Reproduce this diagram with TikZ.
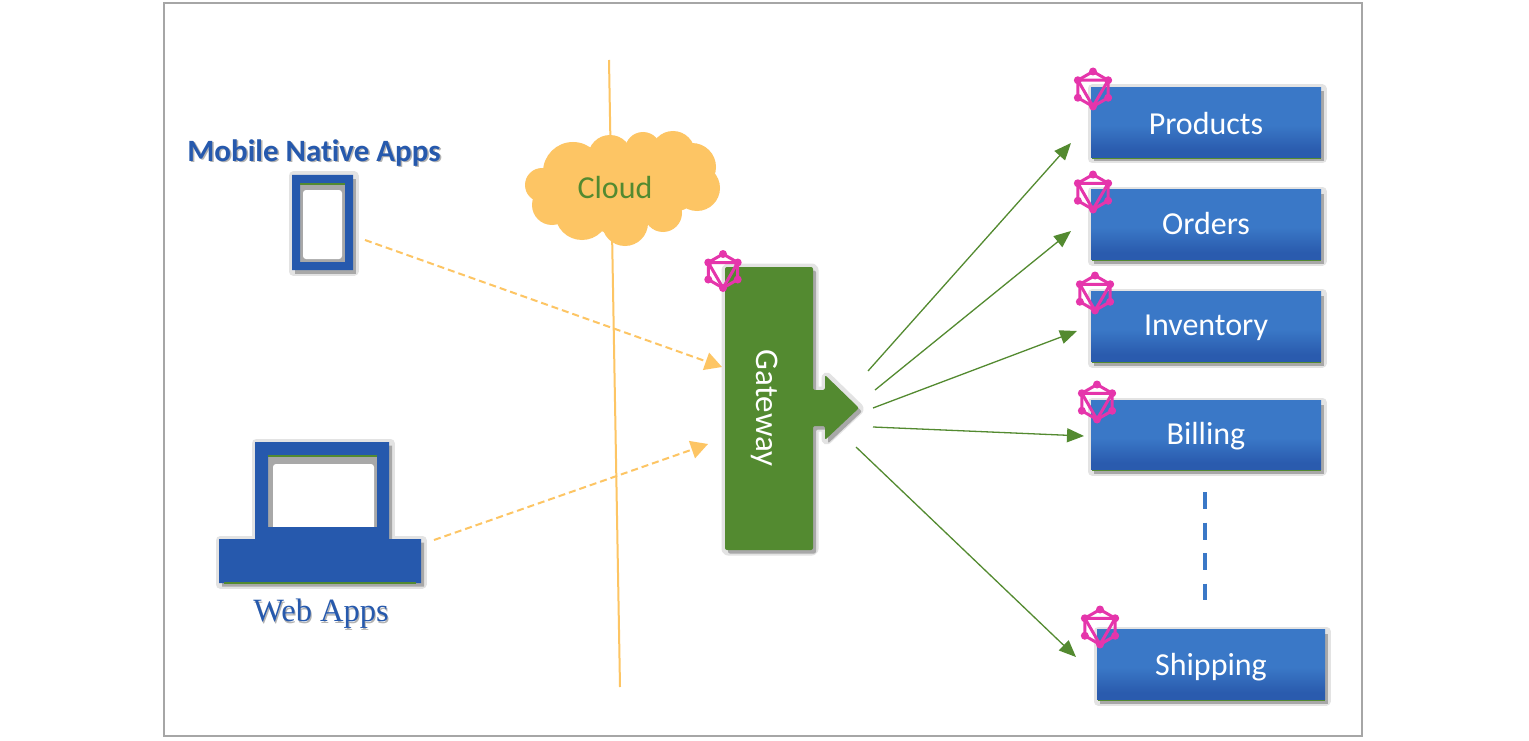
\documentclass[tikz,border=0pt]{standalone}
\usepackage{fontspec}
\setmainfont{Carlito}[Ligatures=NoCommon]
\newfontfamily\serifface{Liberation Serif}
\usetikzlibrary{arrows.meta}
\definecolor{lightb}{HTML}{3A78C7}
\definecolor{darkb}{HTML}{2A5BAE}
\definecolor{deepb}{HTML}{2659AD}
\definecolor{gwgreen}{HTML}{538A30}
\definecolor{cloudy}{HTML}{FDC564}
\definecolor{gqlpink}{HTML}{E535AB}
\pgfdeclareverticalshading{boxshade}{100bp}{color(0bp)=(darkb); color(30bp)=(darkb); color(48bp)=(lightb); color(100bp)=(lightb)}
\newcommand{\softshadow}[1]{%
  \draw[shadowhalo,shift={(1,1)}] #1;
  \fill[shadowcore,shift={(3,3.5)}] #1;}
\newcommand{\gqlogo}[4]{% x y radius name
  \begin{scope}[shift={(#1,#2)}]
    \coordinate (#4) at (0,0);
    \draw[gqlline] (90:#3) -- (30:#3) -- (-30:#3) -- (-90:#3) -- (-150:#3) -- (150:#3) -- cycle;
    \draw[gqlline] (90:#3) -- (-30:#3) -- (-150:#3) -- cycle;
    \foreach \a in {90,30,-30,-90,-150,150} \fill[gqlpink] (\a:#3) circle (4);
  \end{scope}}
\newcommand{\servicebox}[7]{% name x1 y1 x2 y2 text texty
  \softshadow{(#2,#3) rectangle (#4,#5)}
  \fill[gwgreen] (#2+1,#5-2) rectangle (#4,#5+1);
  \node[svcbox,minimum width=#4pt-#2pt,minimum height=#5pt-#3pt] (#1) at ({(#2+#4)/2},{(#3+#5)/2-0.5}) {};
  \node[svctext] (#1Text) at ({(#2+#4)/2},#7) {#6};}
\tikzset{
  x=1pt,y=-1pt,
  shadowhalo/.style={draw=black!11,line width=9pt,line join=round},
  shadowcore/.style={fill=black!34},
  gqlline/.style={draw=gqlpink,line width=3pt,line join=round},
  svcbox/.style={shading=boxshade,draw=none,inner sep=0pt},
  svctext/.style={inner sep=0pt,text=white,font=\fontsize{32}{34}\selectfont},
  greenarrow/.style={draw=gwgreen,line width=1.3pt,-{Triangle[length=17pt,width=14pt]}},
  yellowarrow/.style={draw=cloudy,line width=2pt,dash pattern=on 7pt off 4pt,-{Triangle[length=17pt,width=18pt]}},
  applabel/.style={text=deepb,inner sep=0pt},
  shadowtext/.style={text=black!30,inner sep=0pt},
}
\begin{document}
\begin{tikzpicture}
\useasboundingbox (0,0) rectangle (1529,741);
\fill[white] (0,0) rectangle (1529,741);
\draw[draw=black!35,line width=1.6pt] (164,3) rectangle (1362,736);

% boundary line
\coordinate (lineTop) at (609,60);
\coordinate (lineBot) at (620,687);
\draw[cloudy,line width=2pt] (lineTop) -- (lineBot);

% cloud
\foreach \cx/\cy/\r in {542/185/17,573/172/30,610/157/22,643/150/18,673/153/22,692/167/24,697/188/23,677/193/18,663/213/19,625/223/23,582/213/27,552/205/20,620/190/45,650/185/40,590/190/40}
  \fill[cloudy] (\cx,\cy) circle (\r);
\node[text=gwgreen,inner sep=0pt,font=\fontsize{32}{34}\selectfont] (cloud) at (615,188) {Cloud};

% phone
\softshadow{(292,175) rectangle (353,270)}
\fill[black!34] (300,183) rectangle (345,262);
\fill[white,rounded corners=3pt] (303,190) rectangle (342,259);
\fill[deepb,even odd rule] (292,175) rectangle (353,270) (300,183) rectangle (345,262);
\fill[gwgreen] (300,183) rectangle (345,184.5);
\node[shadowtext,font=\fontsize{31}{33}\selectfont\bfseries] at (315.5,154.5) {Mobile Native Apps};
\node[applabel,font=\fontsize{31}{33}\selectfont\bfseries] (mobile) at (314,153) {Mobile Native Apps};
\coordinate (mobileOut) at (365,240);

% laptop
\softshadow{(255,442) -- (389,442) -- (389,539) -- (421,539) -- (421,583) -- (219,583) -- (219,539) -- (255,539) -- cycle}
\fill[black!34] (268,455) rectangle (377,527);
\fill[white,rounded corners=3pt] (273,464) rectangle (374,530);
\fill[deepb,even odd rule] (255,442) -- (389,442) -- (389,539) -- (421,539) -- (421,583) -- (219,583) -- (219,539) -- (255,539) -- cycle (268,455) rectangle (377,527);
\fill[gwgreen] (268,455) rectangle (377,456.5);
\fill[gwgreen] (224,582) rectangle (416,584);
\node[shadowtext,font=\serifface\fontsize{32.5}{34}\selectfont] at (322,615.5) {Web Apps};
\node[applabel,font=\serifface\fontsize{32.5}{34}\selectfont] (web) at (321,614) {Web Apps};
\coordinate (webOut) at (434,540);

% gateway
\softshadow{[rounded corners=2pt] (725,267) -- (813,267) -- (813,390) -- (825,390) -- (825,375) -- (859,408) -- (825,440) -- (825,426) -- (813,426) -- (813,550) -- (725,550) -- cycle}
\fill[gwgreen,rounded corners=2pt] (725,267) -- (813,267) -- (813,390) -- (825,390) -- (825,375) -- (859,408) -- (825,440) -- (825,426) -- (813,426) -- (813,550) -- (725,550) -- cycle;
\node[text=white,rotate=-90,inner sep=0pt,font=\fontsize{33}{35}\selectfont] (gateway) at (765,408) {Gateway};
\gqlogo{723}{271}{17}{gqlGateway}

% services
\servicebox{products}{1091}{88}{1321}{158}{Products}{123.5}
\servicebox{orders}{1091}{190}{1321}{260}{Orders}{224}
\servicebox{inventory}{1091}{292}{1321}{362}{Inventory}{328}
\servicebox{billing}{1091}{401}{1321}{470}{Billing}{436}
\servicebox{shipping}{1097}{630}{1325}{700}{Shipping}{667}
\gqlogo{1093}{89}{17.5}{gqlProducts}
\gqlogo{1093}{192}{17.5}{gqlOrders}
\gqlogo{1095}{293}{17.5}{gqlInventory}
\gqlogo{1097}{402}{17.5}{gqlBilling}
\gqlogo{1100}{627}{17.5}{gqlShipping}

% dashed link between services
\coordinate (dotsTop) at (1205,492);
\coordinate (dotsBot) at (1205,600);
\draw[lightb,line width=3.6pt,dash pattern=on 17pt off 13.5pt] (dotsTop) -- (dotsBot);

% arrows
\coordinate (inA) at (722,367);
\coordinate (inB) at (708,444);
\draw[yellowarrow] (mobileOut) -- (inA);
\draw[yellowarrow] (webOut) -- (inB);
\coordinate (g1) at (868,371); \coordinate (e1) at (1071,143);
\coordinate (g2) at (875,390); \coordinate (e2) at (1071,231);
\coordinate (g3) at (873,408); \coordinate (e3) at (1077,331);
\coordinate (g4) at (873,427); \coordinate (e4) at (1084,436);
\coordinate (g5) at (856,447); \coordinate (e5) at (1076,657);
\foreach \i in {1,...,5} \draw[greenarrow] (g\i) -- (e\i);
\end{tikzpicture}
\end{document}
